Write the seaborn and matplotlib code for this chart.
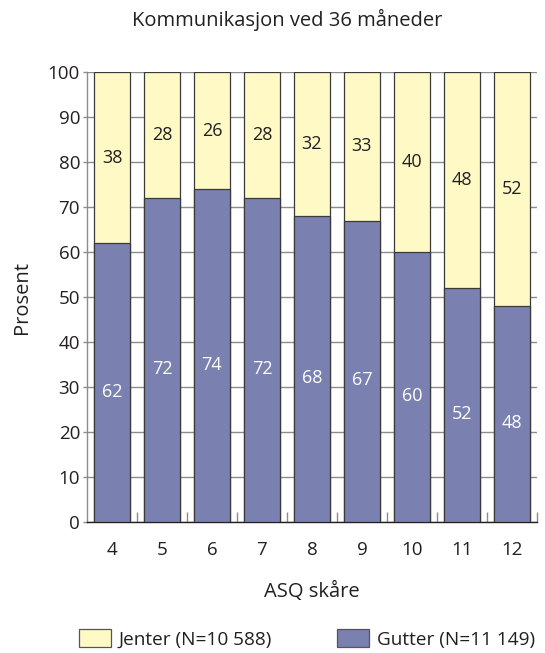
import matplotlib
matplotlib.use("Agg")
import matplotlib.pyplot as plt
from matplotlib.patches import Patch
from matplotlib.ticker import FixedLocator
import seaborn as sns
import pandas as pd

# ASQ communication scores at 36 months, share of girls/boys per score
scores = ["4", "5", "6", "7", "8", "9", "10", "11", "12"]
gutter = [62, 72, 74, 72, 68, 67, 60, 52, 48]
jenter = [38, 28, 26, 28, 32, 33, 40, 48, 52]
yticks = list(range(0, 101, 10))

title = "Kommunikasjon ved 36 måneder"
xlabel = "ASQ skåre"
ylabel = "Prosent"
label_jenter = "Jenter (N=10 588)"
label_gutter = "Gutter (N=11 149)"

col_jenter = "#FFF9C6"
col_gutter = "#7A80B0"
edge = "#3a3a3a"
grid_col = "#8c8c8c"
text_col = "#231f20"

sns.set_theme(style="white")
plt.rcParams["font.family"] = ["Open Sans", "DejaVu Sans"]

df = pd.DataFrame({"score": scores, "gutter": gutter, "jenter": jenter})
df["total"] = df["gutter"] + df["jenter"]

fig = plt.figure(figsize=(5.45, 6.53), dpi=100)
ax = fig.add_axes([0.1596, 0.2006, 0.8257, 0.6891])

# stacked bars: full total in yellow, boys drawn over it in blue
sns.barplot(data=df, x="score", y="total", color=col_jenter, width=0.72,
            edgecolor=edge, linewidth=0.9, saturation=1, ax=ax, zorder=3)
sns.barplot(data=df, x="score", y="gutter", color=col_gutter, width=0.72,
            edgecolor=edge, linewidth=0.9, saturation=1, ax=ax, zorder=4)

for i, (g, j) in enumerate(zip(gutter, jenter)):
    ax.text(i, g + j / 2, f"{j}", ha="center", va="center", fontsize=13,
            color=text_col, zorder=5)
    ax.text(i, g / 2 - 2, f"{g}", ha="center", va="center", fontsize=13,
            color="white", zorder=5)

ax.set_xlim(-0.5, len(scores) - 0.5)
ax.set_ylim(0, 100)
ax.set_yticks(yticks)
ax.yaxis.grid(True, color=grid_col, linewidth=1.0, zorder=0)
ax.set_axisbelow(True)

for s in ["top", "right"]:
    ax.spines[s].set_visible(False)
ax.spines["left"].set_color(grid_col)
ax.spines["left"].set_linewidth(1.0)
ax.spines["bottom"].set_color(text_col)
ax.spines["bottom"].set_linewidth(1.0)

ax.tick_params(axis="y", which="major", length=3, width=1.0, color=grid_col,
               left=True, labelsize=13.5, labelcolor=text_col, pad=2)
ax.tick_params(axis="x", which="major", length=0, labelsize=13.5,
               labelcolor=text_col, pad=14)
ax.xaxis.set_minor_locator(FixedLocator([i + 0.5 for i in range(len(scores))]))
ax.tick_params(axis="x", which="minor", direction="in", length=7,
               width=1.0, color=grid_col, bottom=True)

ax.set_xlabel(xlabel, fontsize=14.5, color=text_col)
ax.xaxis.set_label_coords(0.5, -0.1556)
ax.xaxis.label.set_va("center")
ax.set_ylabel(ylabel, fontsize=14.5, color=text_col)
ax.yaxis.set_label_coords(-0.144, 0.5)
ax.yaxis.label.set_va("center")

fig.text(0.5275, 0.969, title, ha="center", va="center", fontsize=14.5,
         color=text_col)

handles = [Patch(facecolor=col_jenter, edgecolor="#555555", linewidth=0.9),
           Patch(facecolor=col_gutter, edgecolor="#555555", linewidth=0.9)]
fig.legend(handles, [label_jenter, label_gutter], loc="center",
           bbox_to_anchor=(0.563, 0.0214), ncol=2, frameon=False,
           fontsize=13.7, handlelength=1.7, handleheight=1.1,
           handletextpad=0.4, columnspacing=3.4, labelcolor=text_col,
           borderpad=0.1)

fig.savefig("out.png", dpi=100)
